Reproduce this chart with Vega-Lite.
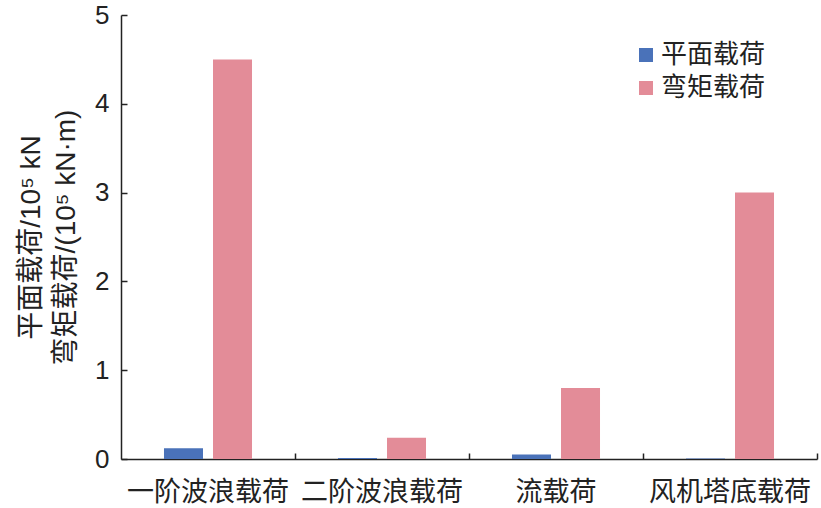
{
  "$schema": "https://vega.github.io/schema/vega-lite/v6.json",
  "width": 696,
  "height": 444,
  "autosize": {"type": "none"},
  "padding": {"left": 121, "top": 15, "right": 4, "bottom": 49},
  "background": "white",
  "config": {"view": {"stroke": null}},
  "data": {
    "values": [
      {"load": "一阶波浪载荷", "type": "平面载荷", "value": 0.12},
      {"load": "一阶波浪载荷", "type": "弯矩载荷", "value": 4.5},
      {"load": "二阶波浪载荷", "type": "平面载荷", "value": 0.01},
      {"load": "二阶波浪载荷", "type": "弯矩载荷", "value": 0.24},
      {"load": "流载荷", "type": "平面载荷", "value": 0.05},
      {"load": "流载荷", "type": "弯矩载荷", "value": 0.8},
      {"load": "风机塔底载荷", "type": "平面载荷", "value": 0.005},
      {"load": "风机塔底载荷", "type": "弯矩载荷", "value": 3.0}
    ]
  },
  "mark": {"type": "bar"},
  "encoding": {
    "x": {
      "field": "load",
      "type": "nominal",
      "sort": null,
      "scale": {"paddingInner": 0, "paddingOuter": 0},
      "axis": {
        "title": null,
        "labelAngle": 0,
        "labelFont": "Noto Sans CJK SC",
        "labelFontSize": 27,
        "labelColor": "#222",
        "labelPadding": 26,
        "bandPosition": 1,
        "tickSize": -6,
        "tickColor": "#222",
        "tickWidth": 1.5,
        "domainColor": "#222",
        "domainWidth": 1.5
      }
    },
    "xOffset": {
      "field": "type",
      "type": "nominal",
      "sort": ["平面载荷", "弯矩载荷"],
      "scale": {"paddingInner": 0.204, "paddingOuter": 0.877}
    },
    "y": {
      "field": "value",
      "type": "quantitative",
      "scale": {"domain": [0, 5], "nice": false},
      "axis": {
        "values": [0, 1, 2, 3, 4, 5],
        "grid": false,
        "title": ["平面载荷/10⁵ kN", "弯矩载荷/(10⁵ kN·m)"],
        "titleFont": "Liberation Sans, Noto Sans CJK SC",
        "titleFontSize": 28,
        "titleFontWeight": "normal",
        "titleColor": "#222",
        "titleLineHeight": 35,
        "titlePadding": 14,
        "labelFont": "Liberation Sans",
        "labelFontSize": 26,
        "labelColor": "#222",
        "labelPadding": 18,
        "tickSize": -6,
        "tickColor": "#222",
        "tickWidth": 1.5,
        "domainColor": "#222",
        "domainWidth": 1.5
      }
    },
    "color": {
      "field": "type",
      "type": "nominal",
      "sort": ["平面载荷", "弯矩载荷"],
      "scale": {"domain": ["平面载荷", "弯矩载荷"], "range": ["#4a72b9", "#e38c98"]},
      "legend": {
        "title": null,
        "orient": "none",
        "legendX": 512,
        "legendY": 27,
        "symbolType": "square",
        "symbolSize": 196,
        "symbolOpacity": 1,
        "labelFont": "Noto Sans CJK SC",
        "labelFontSize": 26,
        "labelColor": "#222",
        "labelOffset": 2,
        "labelLimit": 200,
        "rowPadding": 7
      }
    }
  }
}
